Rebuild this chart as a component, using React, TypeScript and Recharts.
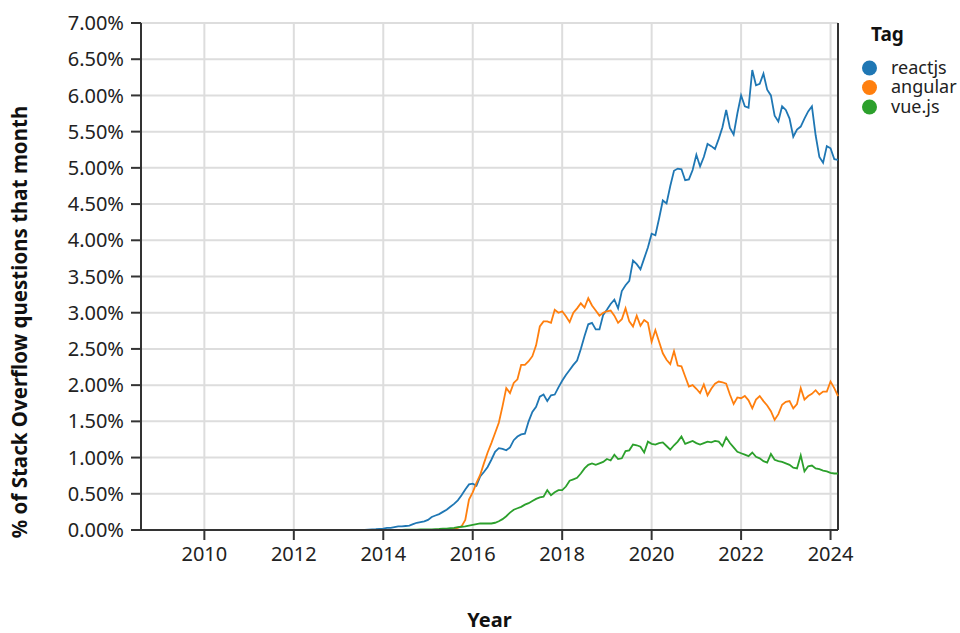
import React from 'react';
import { LineChart, Line, XAxis, YAxis, CartesianGrid, Label, ReferenceLine } from 'recharts';

// monthly share of SO questions (%), Aug 2008 .. Mar 2024
const firstYear = 2008;
const firstMonth = 8;

const reactjs = [
  0, 0, 0, 0, 0,
  0, 0, 0, 0, 0, 0, 0, 0, 0, 0, 0, 0,
  0, 0, 0, 0, 0, 0, 0, 0, 0, 0, 0, 0,
  0, 0, 0, 0, 0, 0, 0, 0, 0, 0, 0, 0,
  0, 0, 0, 0, 0, 0, 0, 0, 0, 0, 0, 0,
  0, 0, 0, 0, 0, 0, 0, 0.003, 0.006, 0.01, 0.012, 0.016,
  0.02, 0.03, 0.03, 0.04, 0.05, 0.05, 0.055, 0.06, 0.08, 0.1, 0.11, 0.12,
  0.14, 0.18, 0.2, 0.22, 0.25, 0.28, 0.32, 0.36, 0.41, 0.48, 0.56, 0.63,
  0.64, 0.61, 0.74, 0.8, 0.87, 0.97, 1.08, 1.13, 1.12, 1.1, 1.14, 1.24,
  1.29, 1.32, 1.33, 1.5, 1.63, 1.7, 1.84, 1.87, 1.78, 1.86, 1.87, 1.97,
  2.06, 2.14, 2.21, 2.28, 2.34, 2.5, 2.68, 2.84, 2.86, 2.77, 2.77, 2.97,
  3.04, 3.12, 3.18, 3.06, 3.3, 3.38, 3.44, 3.72, 3.67, 3.6, 3.75, 3.9,
  4.09, 4.07, 4.3, 4.55, 4.51, 4.75, 4.96, 4.99, 4.98, 4.83, 4.84, 4.97,
  5.18, 5.02, 5.15, 5.33, 5.3, 5.26, 5.4, 5.56, 5.8, 5.55, 5.46, 5.75,
  6.0, 5.85, 5.83, 6.35, 6.14, 6.16, 6.3, 6.08, 6.0, 5.72, 5.64, 5.85,
  5.8, 5.68, 5.43, 5.53, 5.57, 5.68, 5.78, 5.85, 5.45, 5.15, 5.07, 5.3,
  5.27, 5.12, 5.11,
];

const angular = [
  0, 0, 0, 0, 0,
  0, 0, 0, 0, 0, 0, 0, 0, 0, 0, 0, 0,
  0, 0, 0, 0, 0, 0, 0, 0, 0, 0, 0, 0,
  0, 0, 0, 0, 0, 0, 0, 0, 0, 0, 0, 0,
  0, 0, 0, 0, 0, 0, 0, 0, 0, 0, 0, 0,
  0, 0, 0, 0, 0, 0, 0, 0, 0, 0, 0, 0,
  0, 0, 0, 0, 0, 0, 0, 0, 0, 0, 0, 0,
  0, 0, 0, 0.005, 0.01, 0.01, 0.015, 0.02, 0.03, 0.05, 0.14, 0.42,
  0.52, 0.65, 0.76, 0.92, 1.07, 1.2, 1.34, 1.48, 1.71, 1.96, 1.89, 2.03,
  2.08, 2.28, 2.28, 2.33, 2.4, 2.55, 2.81, 2.88, 2.88, 2.86, 3.04, 3.0,
  3.02, 2.95, 2.87, 3.0, 3.06, 3.13, 3.07, 3.2, 3.1, 3.03, 2.96, 3.0,
  3.02, 3.03, 2.96, 2.86, 2.91, 3.06, 2.88, 2.81, 2.96, 2.82, 2.9, 2.86,
  2.6, 2.76, 2.6, 2.44, 2.35, 2.29, 2.47, 2.27, 2.26, 2.12, 1.98, 2.0,
  1.95, 1.89, 2.01, 1.86, 1.95, 2.02, 2.05, 2.04, 2.02, 1.87, 1.74, 1.83,
  1.82, 1.85, 1.79, 1.68, 1.8, 1.85, 1.78, 1.72, 1.64, 1.52, 1.6, 1.73,
  1.77, 1.78, 1.68, 1.74, 1.96, 1.8, 1.85, 1.88, 1.93, 1.87, 1.91, 1.91,
  2.05, 1.96, 1.85,
];

const vuejs = [
  0, 0, 0, 0, 0,
  0, 0, 0, 0, 0, 0, 0, 0, 0, 0, 0, 0,
  0, 0, 0, 0, 0, 0, 0, 0, 0, 0, 0, 0,
  0, 0, 0, 0, 0, 0, 0, 0, 0, 0, 0, 0,
  0, 0, 0, 0, 0, 0, 0, 0, 0, 0, 0, 0,
  0, 0, 0, 0, 0, 0, 0, 0, 0, 0, 0, 0,
  0, 0, 0, 0.002, 0.003, 0.003, 0.004, 0.005, 0.005, 0.006, 0.007, 0.008,
  0.01, 0.01, 0.012, 0.015, 0.02, 0.02, 0.025, 0.03, 0.04, 0.045, 0.05, 0.06,
  0.07, 0.08, 0.09, 0.09, 0.09, 0.09, 0.1, 0.12, 0.15, 0.19, 0.24, 0.28,
  0.3, 0.32, 0.35, 0.37, 0.4, 0.43, 0.45, 0.46, 0.55, 0.48, 0.52, 0.55,
  0.55, 0.6, 0.68, 0.7, 0.72, 0.78, 0.85, 0.9, 0.92, 0.9, 0.92, 0.94,
  0.98, 0.96, 1.04, 0.98, 0.99, 1.09, 1.1, 1.18, 1.17, 1.15, 1.07, 1.22,
  1.19, 1.18, 1.2, 1.21, 1.16, 1.11, 1.17, 1.22, 1.29, 1.19, 1.21, 1.23,
  1.2, 1.18, 1.2, 1.22, 1.21, 1.23, 1.22, 1.16, 1.28, 1.2, 1.14, 1.08,
  1.06, 1.04, 1.02, 1.07, 1.01, 0.99, 0.95, 0.93, 1.05, 0.97, 0.95, 0.94,
  0.92, 0.9, 0.86, 0.85, 1.03, 0.81, 0.88, 0.89, 0.85, 0.84, 0.82, 0.81,
  0.79, 0.78, 0.78,
];

const yearTicks = [2010, 2012, 2014, 2016, 2018, 2020, 2022, 2024];
const pctTicks = [0, 0.5, 1, 1.5, 2, 2.5, 3, 3.5, 4, 4.5, 5, 5.5, 6, 6.5, 7];

const tags = [
  { key: 'reactjs', color: '#1f77b4' },
  { key: 'angular', color: '#ff7f0e' },
  { key: 'vue.js', color: '#2ca02c' },
];

const data = reactjs.map((v, i) => ({
  t: firstYear + (firstMonth - 1 + i) / 12,
  reactjs: v,
  angular: angular[i],
  'vue.js': vuejs[i],
}));

const tMin = data[0].t;
const tMax = data[data.length - 1].t;

const font = '"Noto Sans", sans-serif';
const tickStyle = { fill: '#222', fontSize: 20, fontFamily: font };

// legend sits outside the chart so it doesn't eat plot space
const TagLegend = () => (
  <svg width={102} height={120} style={{ position: 'absolute', left: 858, top: 15, fontFamily: font }}>
    <text x={13} y={26} fontSize={19} fontWeight="bold" fill="#111">Tag</text>
    {tags.map((s, i) => (
      <g key={s.key}>
        <circle cx={11.5} cy={53 + i * 19.5} r={7.5} fill={s.color} />
        <text x={33} y={58.5 + i * 19.5} fontSize={18} fill="#222">{s.key}</text>
      </g>
    ))}
  </svg>
);

export default function App() {
  return (
    <div style={{ position: 'absolute', left: 0, top: 0, width: 960, height: 633, background: '#fff' }}>
      <LineChart width={960} height={633} data={data} margin={{ top: 23, right: 122, bottom: 0, left: 0 }}>
        <CartesianGrid stroke="#ddd" strokeWidth={2} />
        <XAxis
          dataKey="t"
          type="number"
          domain={[tMin, tMax]}
          ticks={yearTicks}
          tickFormatter={(v) => String(v)}
          height={103}
          tickSize={10}
          tickMargin={7}
          tick={tickStyle}
          stroke="#333"
          strokeWidth={2}
        >
          <Label
            content={() => (
              <text x={489.5} y={627} textAnchor="middle" fontSize={20} fontWeight="bold" fontFamily={font} fill="#111">
                Year
              </text>
            )}
          />
        </XAxis>
        <YAxis
          domain={[0, 7]}
          ticks={pctTicks}
          tickFormatter={(v) => `${v.toFixed(2)}%`}
          width={141}
          tickSize={10}
          tickMargin={7}
          tick={tickStyle}
          stroke="#333"
          strokeWidth={2}
          interval={0}
        >
          <Label
            content={() => (
              <text
                x={19}
                y={322}
                transform="rotate(-90 19 322)"
                textAnchor="middle"
                dominantBaseline="central"
                fontSize={20.5}
                fontWeight="bold"
                fontFamily={font}
                fill="#111"
              >
                % of Stack Overflow questions that month
              </text>
            )}
          />
        </YAxis>
        <ReferenceLine x={tMax} stroke="#333" strokeWidth={2} />
        {tags.map((s) => (
          <Line
            key={s.key}
            type="linear"
            dataKey={s.key}
            stroke={s.color}
            strokeWidth={1.8}
            dot={false}
            isAnimationActive={false}
          />
        ))}
      </LineChart>
      <TagLegend />
    </div>
  );
}
